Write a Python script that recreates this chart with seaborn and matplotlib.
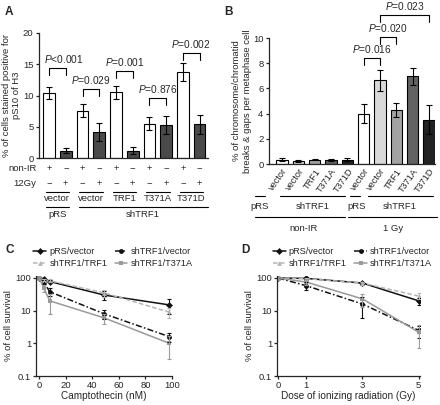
import pandas as pd
import seaborn as sns
import matplotlib.pyplot as plt
from matplotlib.ticker import NullLocator

sns.set_style("ticks")
plt.rcParams['font.family'] = ['Liberation Sans', 'DejaVu Sans']
plt.rcParams['mathtext.fontset'] = 'custom'
plt.rcParams['mathtext.it'] = 'Liberation Sans:italic'
plt.rcParams['mathtext.rm'] = 'Liberation Sans'
plt.rcParams['axes.linewidth'] = 0.9
plt.rcParams['xtick.major.width'] = 0.9
plt.rcParams['ytick.major.width'] = 0.9
plt.rcParams['xtick.major.size'] = 2.5
plt.rcParams['ytick.major.size'] = 2.5

# ---- data: panel A ----
a_groups = ["vector", "vector", "TRF1", "T371A", "T371D"]
a_nonir = [10.4, 7.6, 10.5, 5.5, 13.8]
a_nonir_err = [0.9, 1.1, 1.1, 1.0, 1.4]
a_ir = [1.2, 4.2, 1.2, 5.3, 5.4]
a_ir_err = [0.4, 1.4, 0.6, 1.4, 1.5]
a_pvals = ["<0.001", "=0.029", "=0.001", "=0.876", "=0.002"]
a_bracket = [14.4, 11.0, 13.9, 9.6, 16.8]

# ---- data: panel B ----
b_labels = ["vector", "vector", "TRF1", "T371A", "T371D",
            "vector", "vector", "TRF1", "T371A", "T371D"]
b_values = [0.35, 0.25, 0.35, 0.3, 0.35, 4.0, 6.65, 4.3, 6.95, 3.5]
b_err = [0.15, 0.1, 0.03, 0.08, 0.12, 0.75, 0.85, 0.55, 0.65, 1.15]
b_colors = ["#ffffff", "#d9d9d9", "#a3a3a3", "#626262", "#222222"] * 2
b_brackets = [(5, 6, 8.4, "=0.016"), (6, 7, 10.1, "=0.020"), (6, 9, 11.8, "=0.023")]

# ---- data: panels C and D ----
series = ["pRS/vector", "shTRF1/vector", "shTRF1/TRF1", "shTRF1/T371A"]
c_dose = [0, 3.5, 8, 49, 98]
c_vals = {
    "pRS/vector": [100, 95, 78, 30, 15],
    "shTRF1/vector": [100, 75, 38, 8, 1.6],
    "shTRF1/TRF1": [100, 88, 82, 35, 9],
    "shTRF1/T371A": [100, 50, 20, 6, 1.0],
}
c_errs = {
    "pRS/vector": [4, 6, 10, 9, 7],
    "shTRF1/vector": [4, 10, 10, 2.5, 0.5],
    "shTRF1/TRF1": [4, 6, 8, 8, 3],
    "shTRF1/T371A": [4, 12, 12, 2, 0.67],
}
d_dose = [0, 1, 3, 5]
d_vals = {
    "pRS/vector": [100, 97, 70, 20],
    "shTRF1/vector": [100, 58, 16, 2.5],
    "shTRF1/TRF1": [100, 95, 70, 28],
    "shTRF1/T371A": [100, 75, 23, 2.2],
}
d_errs = {
    "pRS/vector": [5, 8, 8, 5],
    "shTRF1/vector": [5, 15, 10, 1.0],
    "shTRF1/TRF1": [5, 8, 8, 6],
    "shTRF1/T371A": [5, 15, 10, 1.5],
}

line_colors = {"pRS/vector": "#111111", "shTRF1/vector": "#111111",
               "shTRF1/TRF1": "#b5b5b5", "shTRF1/T371A": "#9a9a9a"}
line_dashes = {"pRS/vector": "", "shTRF1/vector": (4, 1.5, 1, 1.5),
               "shTRF1/TRF1": (3, 1.5), "shTRF1/T371A": ""}
line_marks = {"pRS/vector": "D", "shTRF1/vector": "o",
              "shTRF1/TRF1": "^", "shTRF1/T371A": "s"}

W, H = 440, 405
FS = 6.8    # ticks and row labels
FP = 7.3    # P values
FL = 6.8    # axis labels


def rect(l, t, r, b):
    return [l / W, 1 - b / H, (r - l) / W, (b - t) / H]


fig = plt.figure(figsize=(4.4, 4.05), dpi=100)

# ================= A =================
ax = fig.add_axes(rect(39, 33, 208, 158))
vals, errs, cols = [], [], []
for i in range(5):
    vals += [a_nonir[i], a_ir[i]]
    errs += [a_nonir_err[i], a_ir_err[i]]
    cols += ["#ffffff", "#4a4a4a"]
dfa = pd.DataFrame({"bar": [f"b{i}" for i in range(10)], "value": vals})
sns.barplot(data=dfa, x="bar", y="value", hue="bar",
            palette=dict(zip(dfa["bar"], cols)), legend=False, width=0.7,
            edgecolor="black", linewidth=0.8, ax=ax)
ax.errorbar(range(10), vals, yerr=errs, fmt="none", ecolor="black",
            elinewidth=0.8, capsize=2.5, capthick=0.8)
ax.set_ylim(0, 20)
ax.set_yticks([0, 5, 10, 15, 20])
ax.set_xlim(-0.6, 9.5)
ax.set_xticks([])
ax.set_xlabel("")
ax.set_ylabel("% of cells stained positive for\npS10 of H3", fontsize=FL, labelpad=1)
ax.tick_params(axis="y", labelsize=FS, pad=1.5)
sns.despine(ax=ax)
for i in range(5):
    x0, x1, h = 2 * i, 2 * i + 1, a_bracket[i]
    ax.plot([x0, x0, x1, x1], [h - 1.1, h, h, h - 1.1], color="black", lw=0.8, clip_on=False)
    # first label sits a little to the right so it clears the y axis
    tx = (x0 + x1) / 2 + (0.35 if i == 0 else 0)
    ax.text(tx, h + 0.45, "$\\mathit{P}$" + a_pvals[i], ha="center",
            va="bottom", fontsize=FP)
tr = ax.get_xaxis_transform()
ax.text(-0.75, -0.08, "non-IR", transform=tr, ha="right", va="center", fontsize=FS)
ax.text(-0.75, -0.2, "12Gy", transform=tr, ha="right", va="center", fontsize=FS)
for i in range(5):
    ax.text(2 * i, -0.08, "+", transform=tr, ha="center", va="center", fontsize=FS)
    ax.text(2 * i + 1, -0.08, "\u2212", transform=tr, ha="center", va="center", fontsize=FS)
    ax.text(2 * i, -0.2, "\u2212", transform=tr, ha="center", va="center", fontsize=FS)
    ax.text(2 * i + 1, -0.2, "+", transform=tr, ha="center", va="center", fontsize=FS)
    ax.plot([2 * i - 0.2, 2 * i + 1.2], [-0.27, -0.27], transform=tr, color="black",
            lw=0.8, clip_on=False)
    ax.text(2 * i + 0.5, -0.325, a_groups[i], transform=tr, ha="center", va="center",
            fontsize=FS)
ax.plot([-0.2, 1.2], [-0.39, -0.39], transform=tr, color="black", lw=0.8, clip_on=False)
ax.plot([1.8, 9.5], [-0.39, -0.39], transform=tr, color="black", lw=0.8, clip_on=False)
ax.text(0.5, -0.45, "pRS", transform=tr, ha="center", va="center", fontsize=FS)
ax.text(5.6, -0.45, "shTRF1", transform=tr, ha="center", va="center", fontsize=FS)
fig.text(5 / W, 1 - 12 / H, "A", fontsize=8.5, fontweight="bold", va="center")

# ================= B =================
ax = fig.add_axes(rect(269, 38, 435, 164))
dfb = pd.DataFrame({"bar": [f"b{i}" for i in range(10)], "value": b_values})
sns.barplot(data=dfb, x="bar", y="value", hue="bar",
            palette=dict(zip(dfb["bar"], b_colors)), legend=False, width=0.71,
            edgecolor="black", linewidth=0.8, ax=ax)
ax.errorbar(range(10), b_values, yerr=b_err, fmt="none", ecolor="black",
            elinewidth=0.8, capsize=2.5, capthick=0.8)
ax.set_ylim(0, 10)
ax.set_yticks([0, 2, 4, 6, 8, 10])
ax.set_xlim(-0.8, 9.37)
ax.set_xticks(range(10))
ax.set_xticklabels(b_labels, rotation=55, ha="right", rotation_mode="anchor")
ax.tick_params(axis="x", length=0, labelsize=6.6, pad=2)
ax.tick_params(axis="y", labelsize=FS, pad=1.5)
ax.set_xlabel("")
ax.set_ylabel("% of chromosome/chromatid\nbreaks & gaps per metaphase cell",
              fontsize=FL, labelpad=1)
sns.despine(ax=ax)
for x0, x1, h, p in b_brackets:
    ax.plot([x0, x0, x1, x1], [h - 0.55, h, h, h - 0.55], color="black", lw=0.8, clip_on=False)
    ax.text((x0 + x1) / 2, h + 0.25, "$\\mathit{P}$" + p, ha="center", va="bottom", fontsize=FP)
tr = ax.get_xaxis_transform()
for a, b in [(-1.65, -1.04), (-0.12, 3.86), (4.16, 4.78), (5.27, 9.25)]:
    ax.plot([a, b], [-0.254, -0.254], transform=tr, color="black", lw=0.8, clip_on=False)
for x, s in [(-1.35, "pRS"), (1.9, "shTRF1"), (4.6, "pRS"), (7.2, "shTRF1")]:
    ax.text(x, -0.34, s, transform=tr, ha="center", va="center", fontsize=FS)
for a, b in [(-1.65, 3.86), (4.04, 9.5)]:
    ax.plot([a, b], [-0.42, -0.42], transform=tr, color="black", lw=0.8, clip_on=False)
ax.text(1.29, -0.508, "non-IR", transform=tr, ha="center", va="center", fontsize=FS)
ax.text(6.8, -0.508, "1 Gy", transform=tr, ha="center", va="center", fontsize=FS)
fig.text(224 / W, 1 - 12 / H, "B", fontsize=8.5, fontweight="bold", va="center")


# ================= C and D =================
def survival(ax, dose, values, errors, xlabel, leg_x):
    rows = []
    for s in series:
        for x, v in zip(dose, values[s]):
            rows.append({"series": s, "dose": x, "value": v})
    df = pd.DataFrame(rows)
    sns.lineplot(data=df, x="dose", y="value", hue="series", style="series",
                 palette=line_colors, dashes=line_dashes, markers=line_marks,
                 markersize=3.5, markeredgewidth=0, linewidth=1.1,
                 errorbar=None, ax=ax)
    for s in series:
        ax.errorbar(dose, values[s], yerr=errors[s], fmt="none",
                    ecolor=line_colors[s], elinewidth=0.8, capsize=1.5, capthick=0.8)
    ax.set_yscale("log")
    ax.set_ylim(0.1, 115)
    ax.set_yticks([0.1, 1, 10, 100])
    ax.set_yticklabels(["0.1", "1", "10", "100"])
    ax.yaxis.set_minor_locator(NullLocator())
    ax.tick_params(labelsize=FS, pad=1)
    ax.set_xlabel(xlabel, fontsize=7.2, labelpad=1)
    ax.set_ylabel("% of cell survival", fontsize=FL, labelpad=1.5)
    sns.despine(ax=ax)
    h, l = ax.get_legend_handles_labels()
    order = [0, 2, 1, 3]
    ax.legend([h[i] for i in order], [l[i] for i in order], ncol=2,
              loc="lower left", bbox_to_anchor=(leg_x, 1.08), frameon=False,
              fontsize=6.6, handlelength=1.4, handletextpad=0.35,
              columnspacing=0.8, labelspacing=0.35, borderaxespad=0,
              borderpad=0)


ax = fig.add_axes(rect(36, 276, 172, 376))
survival(ax, c_dose, c_vals, c_errs, "Camptothecin (nM)", -0.02)
ax.set_xlim(-2.3, 100)
ax.set_xticks([0, 20, 40, 60, 80, 100])
fig.text(5 / W, 1 - 250 / H, "C", fontsize=8.5, fontweight="bold", va="center")

ax = fig.add_axes(rect(277, 276, 420, 376))
survival(ax, d_dose, d_vals, d_errs, "Dose of ionizing radiation (Gy)", -0.03)
ax.set_xlim(-0.04, 5.05)
ax.set_xticks([0, 1, 3, 5])
fig.text(241 / W, 1 - 250 / H, "D", fontsize=8.5, fontweight="bold", va="center")

fig.savefig("out.png", dpi=100)
